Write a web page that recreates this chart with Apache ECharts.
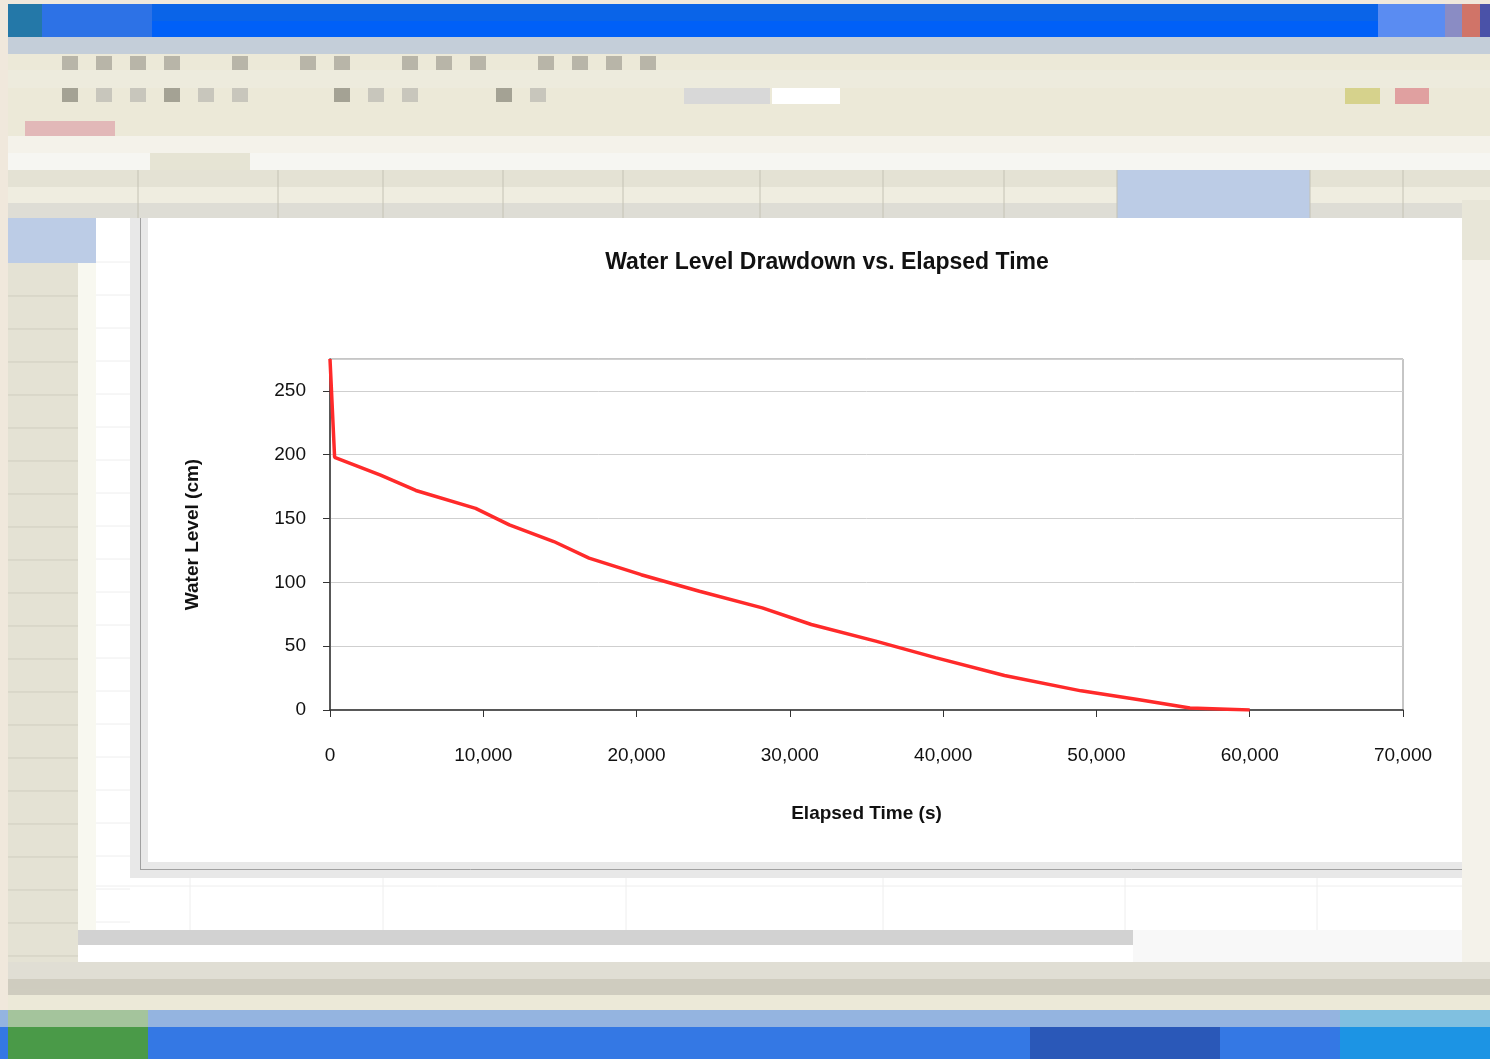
<!DOCTYPE html>
<html>
<head>
<meta charset="utf-8">
<title>Water Level Drawdown</title>
<script src="https://cdn.jsdelivr.net/npm/echarts@6/dist/echarts.min.js"></script>
<style>
  html, body { margin: 0; padding: 0; background: #f0e8dc; }
  #chart { width: 1490px; height: 1059px; }
</style>
</head>
<body>
<div id="chart"></div>
<script>
// Measured drawdown: elapsed time (s) and water level (cm)
const elapsedSec = [0, 300, 3300, 5600, 9500, 11700, 14600, 16900, 20300, 24100,
                    28200, 31400, 35600, 39500, 44000, 49000, 52800, 56100, 60000];
const levelCm    = [275, 198, 184, 172, 158, 145, 132, 119, 106, 93,
                    80, 67, 54, 41, 27, 15, 8, 1.5, 0];

const chartTitle = 'Water Level Drawdown vs. Elapsed Time';
const xAxisTitle = 'Elapsed Time (s)';
const yAxisTitle = 'Water Level (cm)';

const FONT = '"Liberation Sans", Arial, sans-serif';

// ---- spreadsheet window chrome drawn behind the chart ----
const chrome = [];
function box(x, y, w, h, fill) {
  chrome.push({
    type: 'rect', z: -10, silent: true,
    shape: { x: x, y: y, width: w, height: h },
    style: { fill: fill }
  });
}
function vline(x, y1, y2, color) {
  chrome.push({ type: 'line', z: -9, silent: true,
    shape: { x1: x, y1: y1, x2: x, y2: y2 }, style: { stroke: color, lineWidth: 1 } });
}
function hline(y, x1, x2, color) {
  chrome.push({ type: 'line', z: -9, silent: true,
    shape: { x1: x1, y1: y, x2: x2, y2: y }, style: { stroke: color, lineWidth: 1 } });
}

// title bar
box(8, 4, 1482, 17, '#0a64e8');
box(8, 21, 1482, 16, '#0060f8');
box(8, 4, 34, 33, '#2478a8');
box(42, 4, 110, 33, '#2d72e6');
box(1378, 4, 84, 33, '#5a8cf2');
box(1445, 4, 17, 33, '#8a8cc4');
box(1462, 4, 18, 33, '#d07468');
box(1480, 4, 10, 33, '#4a52a8');
// menu bar
box(8, 37, 1482, 17, '#c4ced9');
// toolbars
box(8, 54, 1482, 82, '#ece9d8');
box(8, 70, 1482, 18, '#edebdd');
// toolbar buttons
const btnRow1 = [62, 96, 130, 164, 232, 300, 334, 402, 436, 470, 538, 572, 606, 640];
btnRow1.forEach(function (x) { box(x, 56, 16, 14, '#b8b5a8'); });
const btnRow2 = [62, 96, 130, 164, 198, 232, 334, 368, 402, 496, 530];
btnRow2.forEach(function (x, i) { box(x, 88, 16, 14, i % 3 === 0 ? '#a4a294' : '#c8c6bc'); });
box(684, 88, 86, 16, '#d8d8d8');
box(772, 88, 68, 16, '#ffffff');
box(1345, 88, 35, 16, '#d6d28c');
box(1395, 88, 34, 16, '#e0a0a0');
box(25, 121, 90, 15, '#e2b8b8');
// formula bar
box(8, 136, 1482, 17, '#f4f2ea');
box(8, 153, 1482, 17, '#f6f6f2');
box(150, 153, 100, 17, '#e6e4d4');
// column headers
box(8, 170, 1482, 17, '#e4e2d4');
box(8, 187, 1482, 16, '#efede0');
box(8, 203, 1482, 15, '#deddd5');
box(1117, 170, 193, 48, '#bccce6');
[138, 278, 383, 503, 623, 760, 883, 1004, 1117, 1310, 1403].forEach(function (x) {
  vline(x, 170, 218, '#c4c2b4');
});
// row headers
box(8, 218, 70, 777, '#e4e2d4');
box(8, 218, 88, 45, '#bccce6');
box(78, 263, 18, 682, '#f8f8f0');
for (let y = 296; y < 995; y += 33) { hline(y, 8, 78, '#cfcdbf'); }
// worksheet cells
box(96, 218, 1366, 712, '#ffffff');
for (let y = 262; y < 930; y += 33) { hline(y, 96, 130, '#eeeeee'); }
hline(886, 96, 1462, '#eeeeee');
[190, 383, 626, 883, 1125, 1317].forEach(function (x) { vline(x, 878, 930, '#eeeeee'); });
// vertical scroll bar
box(1462, 200, 28, 795, '#f4f2ea');
box(1462, 200, 28, 60, '#e8e6d8');
// sheet tabs + horizontal scroll bar
box(78, 930, 1055, 15, '#d2d2d2');
box(1133, 930, 329, 32, '#f8f8f8');
box(78, 945, 1055, 17, '#ffffff');
box(8, 962, 1482, 17, '#e0ded4');
box(8, 979, 1482, 16, '#cfccbf');
// status bar
box(8, 995, 1482, 15, '#ece9d8');
// taskbar
box(0, 1010, 1490, 17, '#94b4e0');
box(0, 1027, 1490, 32, '#3478e4');
box(8, 1010, 140, 17, '#a4c49c');
box(8, 1027, 140, 32, '#4a9a48');
box(1030, 1027, 190, 32, '#2a58b8');
box(1340, 1010, 150, 17, '#80c0e0');
box(1340, 1027, 150, 32, '#1c94e4');
// embedded chart object with its shadow
box(130, 218, 18, 660, '#e8e8e8');
box(130, 862, 1332, 16, '#e8e8e8');
box(148, 218, 1314, 644, '#ffffff');
vline(140.5, 218, 870, '#a0a0a0');
hline(869.5, 140, 1462, '#a0a0a0');

const chart = echarts.init(document.getElementById('chart'), null, { renderer: 'canvas' });

chart.setOption({
  backgroundColor: 'transparent',
  animation: false,
  textStyle: { fontFamily: FONT, color: '#000' },
  graphic: { elements: chrome },
  title: {
    text: chartTitle,
    left: 822, top: 246, textAlign: 'center',
    textStyle: { fontFamily: FONT, fontSize: 23, fontWeight: 'bold', color: '#111' }
  },
  grid: {
    left: 330, right: 87, top: 359, bottom: 349,
    show: true, backgroundColor: '#ffffff', borderColor: '#8c8c8c', borderWidth: 1
  },
  xAxis: {
    type: 'value',
    min: 0, max: 70000, interval: 10000,
    name: xAxisTitle,
    nameLocation: 'middle', nameGap: 94,
    nameTextStyle: { fontFamily: FONT, fontSize: 19, fontWeight: 'bold', color: '#111' },
    axisLine: { show: true, onZero: false, lineStyle: { color: '#333', width: 1.5 } },
    axisTick: { show: true, length: 7, lineStyle: { color: '#333' } },
    axisLabel: { fontFamily: FONT, fontSize: 19, color: '#111', margin: 36 },
    splitLine: { show: false }
  },
  yAxis: {
    type: 'value',
    min: 0, max: 275, interval: 50,
    name: yAxisTitle,
    nameLocation: 'middle', nameGap: 128, nameRotate: 90,
    nameTextStyle: { fontFamily: FONT, fontSize: 19, fontWeight: 'bold', color: '#111' },
    axisLine: { show: true, onZero: false, lineStyle: { color: '#333', width: 1.5 } },
    axisTick: { show: true, length: 7, lineStyle: { color: '#333' } },
    axisLabel: { fontFamily: FONT, fontSize: 19, color: '#111', margin: 24, showMaxLabel: false },
    splitLine: { show: true, lineStyle: { color: '#cfcfcf', width: 1 } }
  },
  series: [{
    name: yAxisTitle,
    type: 'line',
    data: elapsedSec.map(function (t, i) { return [t, levelCm[i]]; }),
    showSymbol: false,
    clip: true,
    lineStyle: { color: '#ff2a2a', width: 3.5 },
    z: 3
  }]
});
</script>
</body>
</html>
